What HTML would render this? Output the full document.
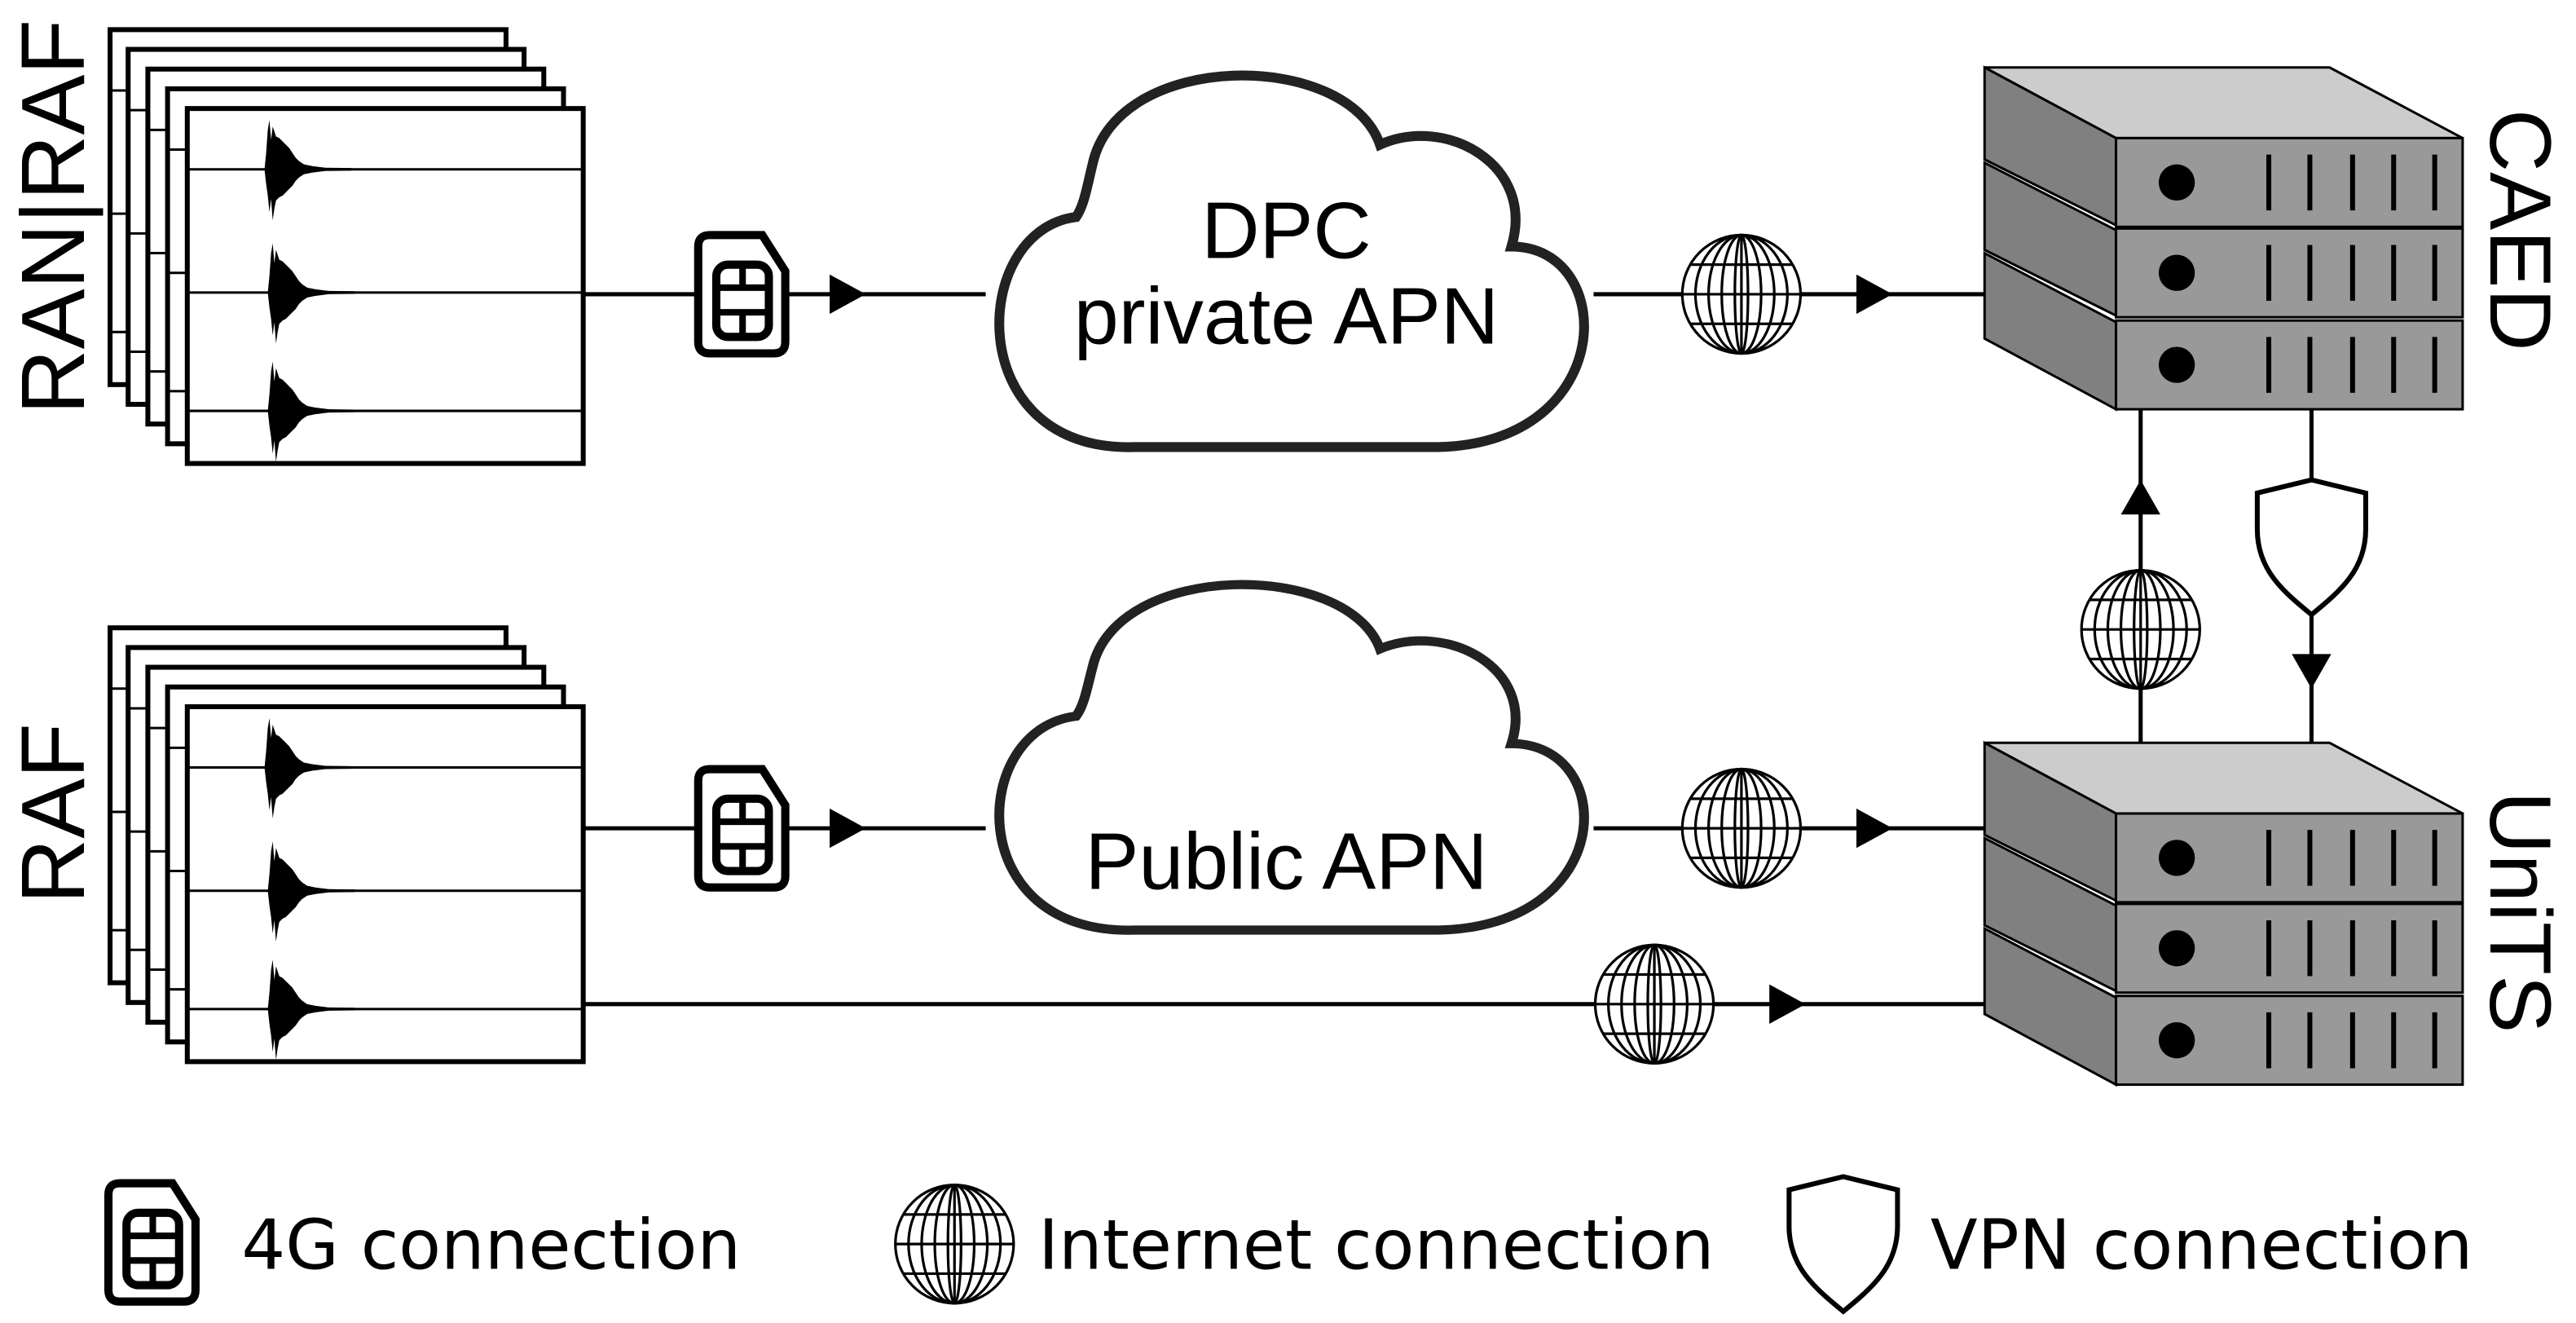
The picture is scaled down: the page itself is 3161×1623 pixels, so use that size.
<!DOCTYPE html>
<html><head><meta charset="utf-8"><style>html,body{margin:0;padding:0;background:#fff}svg{display:block}</style></head>
<body>
<svg width="3161" height="1623" viewBox="0 0 1568 805" xmlns="http://www.w3.org/2000/svg" font-family="Liberation Sans, sans-serif">
<defs>
<g id="wave">
<path d="M-3,0 L-2,-10 L-1,-24 L0,-30 L1,-18 L2,-26 L4,-20 L6,-19 L8,-17 L10,-15 L12,-13 L14,-10 L16,-7 L18,-5 L21,-3 L26,-2 L34,-1 L50,-0.8 L50,0.8 L34,1 L26,2 L21,3 L18,5 L16,7 L14,10 L12,12 L10,14 L8,16 L6,17 L4,19 L3,24 L2,31 L1,18 L0,26 L-1,16 L-2,9 Z" fill="#000"/>
</g>
<g id="sheet">
<rect x="0" y="0" width="241" height="216" fill="#fff" stroke="#000" stroke-width="3"/>
<line x1="0" y1="37" x2="241" y2="37" stroke="#000" stroke-width="1.5"/>
<line x1="0" y1="112" x2="241" y2="112" stroke="#000" stroke-width="1.5"/>
<line x1="0" y1="184" x2="241" y2="184" stroke="#000" stroke-width="1.5"/>
</g>
<g id="sheetw">
<use href="#sheet"/>
<use href="#wave" x="50" y="37"/>
<use href="#wave" x="52" y="112"/>
<use href="#wave" x="52" y="184"/>
</g>
<g id="stack">
<use href="#sheet" x="67" y="18"/>
<use href="#sheet" x="78" y="30"/>
<use href="#sheet" x="90" y="42"/>
<use href="#sheet" x="102" y="54"/>
<use href="#sheetw" x="114" y="66"/>
</g>
<g id="globe" fill="none" stroke="#000" stroke-width="1.6">
<circle r="36" fill="#fff"/>
<ellipse rx="28" ry="36"/>
<ellipse rx="20" ry="36"/>
<ellipse rx="12" ry="36"/>
<ellipse rx="4" ry="36"/>
<line x1="0" y1="-36" x2="0" y2="36"/>
<line x1="-31" y1="-18" x2="31" y2="-18"/>
<line x1="-36" y1="0" x2="36" y2="0"/>
<line x1="-31" y1="18" x2="31" y2="18"/>
</g>
<g id="sim">
<path d="M7,0 H39 L53,22 V65 Q53,72 46,72 H7 Q0,72 0,65 V7 Q0,0 7,0 Z" fill="#fff" stroke="#000" stroke-width="5"/>
<rect x="11" y="18" width="32" height="44" rx="7" fill="none" stroke="#000" stroke-width="5"/>
<line x1="11" y1="32" x2="43" y2="32" stroke="#000" stroke-width="4"/>
<line x1="11" y1="47" x2="43" y2="47" stroke="#000" stroke-width="4"/>
<line x1="27" y1="18" x2="27" y2="32" stroke="#000" stroke-width="4"/>
<line x1="27" y1="47" x2="27" y2="62" stroke="#000" stroke-width="4"/>
</g>
<g id="shield">
<path d="M0,8 L33,0 L66,8 L66,30 C66,55 50,68 33,82 C16,68 0,55 0,30 Z" fill="#fff" stroke="#000" stroke-width="3"/>
</g>
<g id="unit" stroke="#000" stroke-width="1.5">
<rect x="1288" y="0" width="211" height="54" fill="#999"/>
<circle cx="1325" cy="27" r="11" fill="#000" stroke="none"/>
<g stroke-width="3">
<line x1="1381" y1="10" x2="1381" y2="44"/><line x1="1406" y1="10" x2="1406" y2="44"/><line x1="1432" y1="10" x2="1432" y2="44"/><line x1="1457" y1="10" x2="1457" y2="44"/><line x1="1482" y1="10" x2="1482" y2="44"/>
</g>
</g>
<g id="server">
<path d="M1208,41 L1418,41 L1499,84 L1288,84 Z" fill="#ccc" stroke="#000" stroke-width="1.5"/>
<path d="M1208,41 L1288,84 L1288,137 L1208,97 Z" fill="#808080" stroke="#000" stroke-width="1.5"/>
<path d="M1208,99 L1288,140 L1288,192 L1208,152 Z" fill="#808080" stroke="#000" stroke-width="1.5"/>
<path d="M1208,154 L1288,196 L1288,249 L1208,206 Z" fill="#808080" stroke="#000" stroke-width="1.5"/>
<use href="#unit" y="84"/>
<use href="#unit" y="139"/>
<use href="#unit" y="195"/>
</g>
</defs>

<use href="#stack"/>
<use href="#stack" y="364"/>

<text transform="translate(51,132) rotate(-90)" font-size="55" text-anchor="middle">RAN|RAF</text>
<text transform="translate(51,495) rotate(-90)" font-size="55" text-anchor="middle">RAF</text>

<g stroke="#000" stroke-width="2.5">
<line x1="355" y1="179" x2="600" y2="179"/>
<line x1="970" y1="179" x2="1210" y2="179"/>
<line x1="355" y1="504" x2="600" y2="504"/>
<line x1="970" y1="504" x2="1210" y2="504"/>
<line x1="355" y1="611" x2="1210" y2="611"/>
<line x1="1303" y1="249" x2="1303" y2="455"/>
<line x1="1407" y1="249" x2="1407" y2="455"/>
</g>
<g fill="#000">
<polygon points="505,167 527,179 505,191"/>
<polygon points="1130,167 1152,179 1130,191"/>
<polygon points="505,492 527,504 505,516"/>
<polygon points="1130,492 1152,504 1130,516"/>
<polygon points="1077,599 1099,611 1077,623"/>
<polygon points="1291,313 1303,292 1315,313"/>
<polygon points="1395,398 1407,419 1419,398"/>
</g>

<use href="#sim" x="425" y="143"/>
<use href="#sim" x="425" y="468"/>
<use href="#globe" x="1060" y="179"/>
<use href="#globe" x="1060" y="504"/>
<use href="#globe" x="1007" y="611"/>
<use href="#globe" x="1303" y="383"/>
<use href="#shield" x="1374" y="292"/>

<path d="M655,132 C590,140 585,275 690,272 L875,272 C985,270 985,150 920,150 C935,100 880,70 840,88 C820,30 680,30 665,100 C662,112 660,125 655,132 Z" fill="#fff" stroke="#222" stroke-width="6"/>
<text x="783" y="157" font-size="49" text-anchor="middle">DPC</text>
<text x="783" y="209" font-size="49" text-anchor="middle">private APN</text>
<path d="M655,132 C590,140 585,275 690,272 L875,272 C985,270 985,150 920,150 C935,100 880,70 840,88 C820,30 680,30 665,100 C662,112 660,125 655,132 Z" transform="translate(0,313) translate(783,0) scale(1,0.93) translate(-783,0)" fill="#fff" stroke="#222" stroke-width="6"/>
<text x="783" y="541" font-size="49" text-anchor="middle">Public APN</text>

<use href="#server"/>
<use href="#server" y="411"/>

<text transform="translate(1516,140) rotate(90)" font-size="53" text-anchor="middle">CAED</text>
<text transform="translate(1516,555) rotate(90)" font-size="53" text-anchor="middle">UniTS</text>

<use href="#sim" x="66" y="720"/>
<text x="147" y="772" font-size="42" font-family="DejaVu Sans, sans-serif">4G connection</text>
<use href="#globe" x="581" y="757"/>
<text x="632" y="772" font-size="42" font-family="DejaVu Sans, sans-serif">Internet connection</text>
<use href="#shield" x="1089" y="716"/>
<text x="1175" y="772" font-size="42" font-family="DejaVu Sans, sans-serif">VPN connection</text>
</svg>
</body></html>
